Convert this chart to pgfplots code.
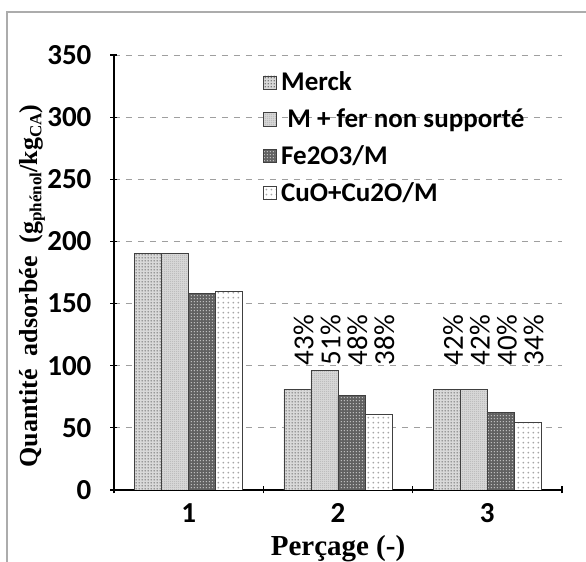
\documentclass[border=0pt]{standalone}
\usepackage{pgfplots}
\pgfplotsset{compat=1.18}
\usetikzlibrary{patterns.meta}
\usepackage{fontspec}
\setmainfont{Carlito}
\newfontfamily\timesfont{Liberation Serif}

\tikzdeclarepattern{name=dotsA, type=uncolored,
  bounding box={(0,0) and (1.5pt,1.5pt)}, tile size={(1.5pt,1.5pt)},
  code={\pgfpathcircle{\pgfpoint{0.75pt}{0.75pt}}{0.45pt}\pgfusepath{fill}}}
\tikzdeclarepattern{name=dotsB, type=uncolored,
  bounding box={(0,0) and (1.1pt,1.1pt)}, tile size={(1.1pt,1.1pt)},
  code={\pgfpathcircle{\pgfpoint{0.55pt}{0.55pt}}{0.3pt}\pgfusepath{fill}}}
\tikzdeclarepattern{name=dotsC, type=uncolored,
  bounding box={(0,0) and (1.4pt,1.4pt)}, tile size={(1.4pt,1.4pt)},
  code={\pgfpathcircle{\pgfpoint{0.7pt}{0.7pt}}{0.35pt}\pgfusepath{fill}}}
\tikzdeclarepattern{name=dotsD, type=uncolored,
  bounding box={(0,0) and (2.4pt,2.4pt)}, tile size={(2.4pt,2.4pt)},
  code={\pgfpathcircle{\pgfpoint{1.2pt}{1.2pt}}{0.5pt}\pgfusepath{fill}}}

\begin{document}
\begin{tikzpicture}
\begin{axis}[
  name=ax,
  scale only axis, width=224pt, height=217.5pt,
  ybar=0pt, bar width=0.181,
  xmin=0.5, xmax=3.5, ymin=0, ymax=350,
  xtick={0.5,1.5,2.5,3.5}, xticklabels={},
  extra x ticks={1,2,3}, extra x tick labels={1,2,3},
  extra x tick style={major tick length=0pt, grid=none,
     xticklabel style={inner sep=0pt, yshift=-6.5pt}},
  ytick={0,50,...,350},
  tick align=outside, major tick length=3.5pt,
  tick style={black, line width=0.6pt},
  ymajorgrids, grid style={dashed, gray!75, line width=0.5pt},
  axis x line=bottom, axis y line=left,
  axis line style={-, black, line width=0.7pt},
  /pgf/number format/assume math mode=true,
  tick label style={font=\bfseries\fontsize{14.5}{14.5}\selectfont},
  yticklabel style={xshift=-6pt},
  xlabel={Perçage (-)},
  xlabel style={font=\timesfont\bfseries\fontsize{14.5}{15}\selectfont,
     at={(axis description cs:0.5,0)}, anchor=north, inner sep=0pt, yshift=-22.5pt},
  ylabel={Quantité~~adsorbée~~(g\raisebox{-0.35ex}{\fontsize{8.5}{9}\selectfont phénol}/kg\raisebox{-0.35ex}{\fontsize{8.5}{9}\selectfont CA})},
  ylabel style={font=\timesfont\bfseries\fontsize{13}{14}\selectfont,
     at={(axis description cs:0,0.469)}, anchor=center, yshift=41pt},
  legend style={at={(rel axis cs:0.3326,0.972)}, anchor=north west,
     draw=none, fill=none, inner sep=0pt, row sep=3.5pt,
     font=\bfseries\fontsize{13.5}{14}\selectfont,
     /tikz/every odd column/.append style={column sep=0pt}},
  legend cell align=left,
  legend image code/.code={\draw[#1] (0pt,-3.3pt) rectangle (6.5pt,3.3pt);},
  /tikz/every even column/.append style={xshift=1.5pt},
]
\addplot[draw=black!75, fill=gray!30, postaction={pattern={dotsA}, pattern color=black!65}]
  coordinates {(1,190) (2,81) (3,81)};
\addplot[draw=black!75, fill=gray!30, postaction={pattern={dotsB}, pattern color=black!45}]
  coordinates {(1,190) (2,96) (3,81)};
\addplot[draw=black!75, fill=black!62, postaction={pattern={dotsC}, pattern color=gray!45}]
  coordinates {(1,158.5) (2,76) (3,62.5)};
\addplot[draw=black!75, fill=white, postaction={pattern={dotsD}, pattern color=gray!70}]
  coordinates {(1,160) (2,61) (3,54.5)};
\legend{Merck,\ M + fer non supporté,Fe2O3/M,CuO+Cu2O/M}
\path[font=\fontsize{14.5}{14.5}\selectfont, every node/.style={rotate=90,anchor=west,inner sep=0pt,yshift=-3pt}]
  (axis cs:1.73,100) node {43\%}
  (axis cs:1.91,100) node {51\%}
  (axis cs:2.09,100) node {48\%}
  (axis cs:2.27,100) node {38\%}
  (axis cs:2.73,100) node {42\%}
  (axis cs:2.91,100) node {42\%}
  (axis cs:3.09,100) node {40\%}
  (axis cs:3.27,100) node {34\%};
\end{axis}
\draw[gray!65, line width=0.9pt] ([shift={(-53.5pt,-40pt)}]ax.south west) -- ([shift={(-53.5pt,239pt)}]ax.south west) -- ([shift={(240pt,239pt)}]ax.south west);
\pgfresetboundingbox
\useasboundingbox ([shift={(-57pt,-36pt)}]ax.south west) rectangle ([shift={(236pt,245pt)}]ax.south west);
\end{tikzpicture}
\end{document}
